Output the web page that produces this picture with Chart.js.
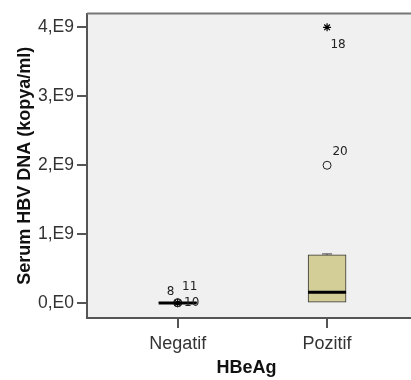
<!DOCTYPE html>
<html>
<head>
<meta charset="utf-8">
<script src="https://cdn.jsdelivr.net/npm/chart.js@4/dist/chart.umd.min.js"></script>
<style>
  html, body { margin: 0; padding: 0; background: #fff; }
  #wrap { width: 411px; height: 380px; }
</style>
</head>
<body>
<div id="wrap"><canvas id="c" width="411" height="380"></canvas></div>
<script>
// data
var categories = ['Negatif', 'Pozitif'];
var boxMin    = [0, 0];
var boxQ1     = [0, 0];
var boxMedian = [0.003e9, 0.16e9];
var boxQ3     = [0.006e9, 0.70e9];
var boxMax    = [0.01e9, 0.715e9];

// outliers (circles) and extremes (stars), with case numbers
var outlierCat   = [1, 1, 2];
var outlierVals  = [0.006e9, 0.008e9, 2.0e9];
var outlierCases = ['8', '11', '20'];
var extremeCat   = [1, 2];
var extremeVals  = [0.004e9, 4.0e9];
var extremeCases = ['10', '18'];

var yTicks = [0, 1e9, 2e9, 3e9, 4e9];

// where the case labels sit relative to their marker (px)
var outlierLabelOffset = [[-7, -11], [12, -16], [13, -13]];
var extremeLabelOffset = [[14, 0], [11, 18]];

var boxHalf = 19;

var bgPlugin = {
    id: 'bg',
    beforeDraw: function(chart){
        var a = chart.chartArea, ctx = chart.ctx;
        ctx.save();
        ctx.fillStyle = '#f0f0f0';
        ctx.fillRect(a.left, a.top, chart.width - a.left, a.bottom - a.top);
        ctx.restore();
    },
    afterDraw: function(chart){
        var a = chart.chartArea, ctx = chart.ctx;
        ctx.save();
        ctx.strokeStyle = '#777';
        ctx.lineWidth = 2;
        ctx.beginPath();
        ctx.moveTo(a.left, a.top);
        ctx.lineTo(chart.width, a.top);
        ctx.stroke();
        // the plot frame runs on past the right edge of the picture
        ctx.strokeStyle = '#555';
        ctx.beginPath();
        ctx.moveTo(a.right - 1, a.bottom);
        ctx.lineTo(chart.width, a.bottom);
        ctx.stroke();
        ctx.restore();
    }
};

var boxPlugin = {
    id: 'boxes',
    afterDatasetsDraw: function(chart){
        var ctx = chart.ctx;
        var xs = chart.scales.x, ys = chart.scales.y;
        ctx.save();
        for (var i = 0; i < categories.length; i++) {
            var cx = xs.getPixelForValue(i + 1);
            // whiskers
            ctx.strokeStyle = '#444';
            ctx.lineWidth = 1;
            ctx.beginPath();
            ctx.moveTo(cx, ys.getPixelForValue(boxQ3[i]));
            ctx.lineTo(cx, ys.getPixelForValue(boxMax[i]));
            ctx.moveTo(cx - 5, ys.getPixelForValue(boxMax[i]));
            ctx.lineTo(cx + 5, ys.getPixelForValue(boxMax[i]));
            ctx.moveTo(cx, ys.getPixelForValue(boxQ1[i]));
            ctx.lineTo(cx, ys.getPixelForValue(boxMin[i]));
            ctx.stroke();
            // median
            ctx.strokeStyle = '#000';
            ctx.lineWidth = 3;
            ctx.beginPath();
            var my = ys.getPixelForValue(boxMedian[i]);
            ctx.moveTo(cx - boxHalf, my);
            ctx.lineTo(cx + boxHalf, my);
            ctx.stroke();
        }
        ctx.restore();
    },
    afterDraw: function(chart){
        var ctx = chart.ctx;
        ctx.save();
        ctx.font = '12px "DejaVu Sans"';
        ctx.fillStyle = '#222';
        ctx.textAlign = 'center';
        ctx.textBaseline = 'middle';
        var m1 = chart.getDatasetMeta(1), m2 = chart.getDatasetMeta(2);
        m1.data.forEach(function(p, i){
            ctx.fillText(outlierCases[i], p.x + outlierLabelOffset[i][0], p.y + outlierLabelOffset[i][1]);
        });
        m2.data.forEach(function(p, i){
            ctx.fillText(extremeCases[i], p.x + extremeLabelOffset[i][0], p.y + extremeLabelOffset[i][1]);
        });
        ctx.restore();
    }
};

var boxData = categories.map(function(c, i){ return { x: i + 1, y: [boxQ1[i], boxQ3[i]] }; });
var outlierData = outlierVals.map(function(v, i){ return { x: outlierCat[i], y: v }; });
var extremeData = extremeVals.map(function(v, i){ return { x: extremeCat[i], y: v }; });

new Chart(document.getElementById('c').getContext('2d'), {
    type: 'bar',
    data: {
        datasets: [
            {
                data: boxData,
                backgroundColor: '#d3ce97',
                borderColor: '#333',
                borderWidth: 1,
                borderSkipped: false,
                barThickness: 38
            },
            {
                type: 'scatter',
                data: outlierData,
                pointStyle: 'circle',
                pointRadius: 4,
                borderColor: '#222',
                backgroundColor: 'rgba(0,0,0,0)',
                borderWidth: 1
            },
            {
                type: 'scatter',
                data: extremeData,
                pointStyle: 'star',
                pointRadius: 4,
                borderColor: '#000',
                backgroundColor: '#000',
                borderWidth: 1.2
            }
        ]
    },
    options: {
        responsive: false,
        animation: false,
        layout: { padding: { top: 8, right: 0, left: 0, bottom: 0 } },
        plugins: { legend: { display: false }, tooltip: { enabled: false } },
        scales: {
            x: {
                type: 'linear',
                min: 0.393,
                max: 2.527,
                offset: false,
                afterBuildTicks: function(s){ s.ticks = [{ value: 1 }, { value: 2 }]; },
                afterFit: function(s){ s.height = 62; },
                ticks: {
                    callback: function(v){ return categories[v - 1]; },
                    font: { family: 'Liberation Sans', size: 18 },
                    color: '#333',
                    padding: 5,
                    maxRotation: 0
                },
                grid: { offset: false, drawOnChartArea: false, tickLength: 10, color: '#555', lineWidth: 2 },
                border: { color: '#555', width: 2 },
                title: {
                    display: true,
                    text: 'HBeAg',
                    font: { family: 'Liberation Sans', size: 18, weight: 'bold' },
                    color: '#111',
                    padding: { top: 0, bottom: 1 }
                }
            },
            y: {
                min: -0.214e9,
                max: 4.2e9,
                afterBuildTicks: function(s){ s.ticks = yTicks.map(function(v){ return { value: v }; }); },
                afterFit: function(s){ s.width = 87; },
                ticks: {
                    callback: function(v){ return v === 0 ? '0,E0' : (v / 1e9) + ',E9'; },
                    font: { family: 'Liberation Sans', size: 17.5 },
                    color: '#333',
                    padding: 3
                },
                grid: { drawOnChartArea: false, tickLength: 10, color: '#555', lineWidth: 2 },
                border: { color: '#555', width: 2 },
                title: {
                    display: true,
                    text: 'Serum HBV DNA (kopya/ml)',
                    font: { family: 'Liberation Sans', size: 18, weight: 'bold' },
                    color: '#111',
                    padding: { top: 14, bottom: 0 }
                }
            }
        }
    },
    plugins: [bgPlugin, boxPlugin]
});
</script>
</body>
</html>
